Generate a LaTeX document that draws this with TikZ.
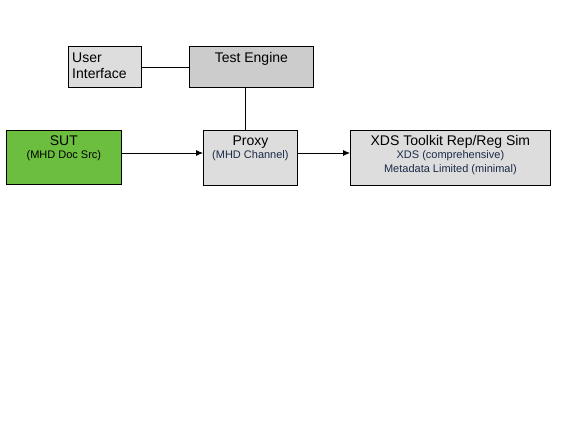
\documentclass[tikz,border=0pt]{standalone}
\usepackage{fontspec}
\setmainfont{Liberation Sans}
\usetikzlibrary{arrows.meta}

\definecolor{boxgray}{HTML}{DDDDDD}
\definecolor{enginegray}{HTML}{CCCCCC}
\definecolor{sutgreen}{HTML}{6CBE3E}
\definecolor{subblue}{HTML}{1A2A48}

\newcommand{\titlesize}{\fontsize{14}{16}\selectfont}
\newcommand{\subsize}{\fontsize{11}{12.5}\selectfont}

\begin{document}
\begin{tikzpicture}[x=1pt,y=-1pt,
        box/.style = {shape=rectangle, draw, fill=boxgray,
          line width=0.8pt, inner sep=0pt, anchor=north west},
        title/.style = {inner sep=0pt, anchor=north, align=center,
          font=\titlesize},
        link/.style = {line width=0.8pt},
        flow/.style = {line width=0.8pt, -{Latex[length=7pt,width=6pt]}}]
  \useasboundingbox (0,0) rectangle (576,445);

  % boxes
  \node[box, minimum width=73pt, minimum height=41pt] (ui) at (68,46) {};
  \node[box, fill=enginegray, minimum width=124pt, minimum height=41pt] (engine) at (189,46) {};
  \node[box, fill=sutgreen, minimum width=115pt, minimum height=54pt] (sut) at (6,130) {};
  \node[box, minimum width=94pt, minimum height=55pt] (proxy) at (203,130) {};
  \node[box, minimum width=200pt, minimum height=55pt] (xds) at (350,130) {};

  % texts
  \node[title, anchor=north west, align=left] (uitext) at ([shift={(4,7)}]ui.north west) {User\\Interface};
  \node[title] (enginetext) at ([shift={(0,6)}]engine.north) {Test Engine};
  \node[title] (suttext) at ([shift={(0,5.5)}]sut.north) {SUT\\[-3pt]{\subsize (MHD Doc Src)}};
  \node[title] (proxytext) at ([shift={(0,5.5)}]proxy.north) {Proxy\\[-3pt]{\subsize\color{subblue}(MHD Channel)}};
  \node[title] (xdstext) at ([shift={(0,5.5)}]xds.north) {XDS Toolkit Rep/Reg Sim\\[-3pt]{\subsize\color{subblue}XDS (comprehensive)}\\[-2.5pt]{\subsize\color{subblue}Metadata Limited (minimal)}};

  % connectors
  \coordinate (tap) at (245,87);
  \coordinate (row) at (0,153);
  \draw[link] (ui.east) -- (engine.west |- ui.east);
  \draw[link] (tap) -- (tap |- proxy.north);
  \draw[flow] (sut.east |- row) -- (proxy.west |- row);
  \draw[flow] (proxy.east |- row) -- (xds.west |- row);
\end{tikzpicture}
\end{document}
